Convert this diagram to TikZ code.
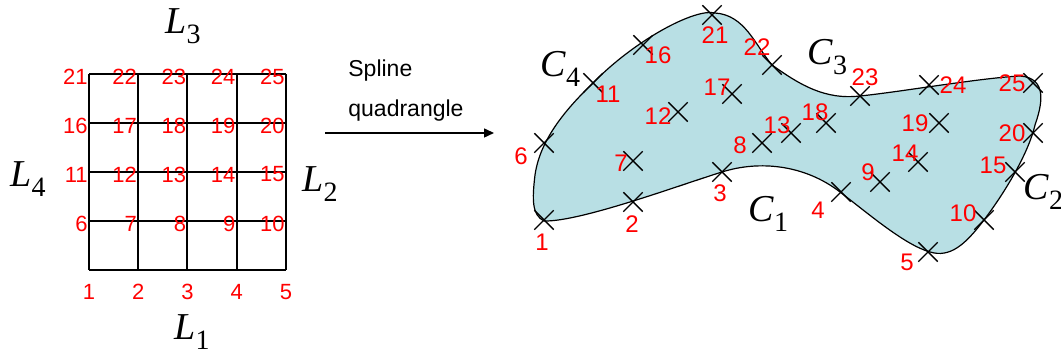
\documentclass[tikz,border=0pt]{standalone}
\usepackage{fontspec}
\setmainfont{Liberation Sans}
\newfontfamily\serfont{Liberation Serif}
\usetikzlibrary{arrows.meta,shapes.misc}
\definecolor{patchfill}{RGB}{184,223,228}
\newcommand\sublab[2]{{\serfont\fontsize{19}{19}\selectfont\textit{#1}\raisebox{-5pt}{\fontsize{14}{14}\selectfont #2}}}

\begin{document}
\begin{tikzpicture}[x=0.5pt,y=-0.5pt,
  gridline/.style={line width=0.6pt},
  gridnum/.style={text=red, font=\fontsize{11}{11}\selectfont, inner sep=0pt},
  ptnum/.style={text=red, font=\fontsize{12}{12}\selectfont, inner sep=0pt},
  xmark/.style={cross out, draw, line width=0.7pt, minimum size=9pt, inner sep=0pt},
  sidelab/.style={anchor=base west, inner sep=0pt},
  arrow/.style={-{Triangle[length=5pt,width=4.5pt]}, line width=0.75pt}
]
\useasboundingbox (0,0) rectangle (1061,356);

% parameter square
\foreach \v in {89,138,187,237,286} \draw[gridline] (\v,74) -- (\v,270);
\foreach \v in {74,123,172,221,270} \draw[gridline] (89,\v) -- (286,\v);
\foreach \i in {1,...,5}
  \node[gridnum] (g\i) at ({89+49.25*(\i-1)},292) {\i};
\foreach \j in {1,...,4} \foreach \i in {1,...,5} {
  \pgfmathtruncatemacro\n{5*\j+\i}
  \node[gridnum, anchor=east] (g\n) at ({88+49.25*(\i-1)},{272.5-49*\j}) {\n};
}
\node[sidelab] (l3) at (165,34) {\sublab{L}{3}};
\node[sidelab] (l1) at (174,340) {\sublab{L}{1}};
\node[sidelab] (l4) at (10,187) {\sublab{L}{4}};
\node[sidelab] (l2) at (302,192) {\sublab{L}{2}};

% mapping
\coordinate (arrowstart) at (325,133);
\coordinate (arrowend) at (494,133);
\draw[arrow] (arrowstart) -- (arrowend);
\node[sidelab, font=\fontsize{11.5}{11.5}\selectfont] (spl) at (348,77) {Spline};
\node[sidelab, font=\fontsize{11.5}{11.5}\selectfont] (quad) at (348,117) {quadrangle};

% physical patch
\filldraw[fill=patchfill, line width=0.6pt] (544,221)
  .. controls (580,222) and (680,185) .. (722,172)
  .. controls (760,160) and (805,165) .. (840,192)
  .. controls (870,215) and (905,245) .. (930,252)
  .. controls (950,258) and (965,245) .. (984,220)
  .. controls (1003,195) and (1028,155) .. (1035,125)
  .. controls (1042,105) and (1048,78) .. (1020,76)
  .. controls (980,78) and (900,92) .. (860,96)
  .. controls (825,100) and (800,85) .. (772,65)
  .. controls (755,45) and (745,15) .. (715,13)
  .. controls (695,8) and (635,40) .. (593,83)
  .. controls (565,110) and (540,140) .. (535,175)
  .. controls (532,200) and (532,215) .. cycle;
\foreach \i/\px/\py/\lx/\ly in {
  1/544/220/542/242, 2/633/202/632/224, 3/722/172/720/193, 4/841/192/818/210,
  5/928/252/907/262, 6/544/143/521/156, 7/633/161/621/163, 8/762/143/740/145,
  9/880/182/868/172, 10/984/220/963/213, 11/593/83/608/94, 12/678/112/658/116,
  13/791/133/777/125, 14/918/162/905/153, 15/1015/172/993/165, 16/643/45/658/55,
  17/732/94/717/87, 18/826/123/815/112, 19/939/123/915/123, 20/1033/133/1012/133,
  21/712/15/715/35, 22/772/65/757/47, 23/860/96/865/77, 24/929/85/953/85,
  25/1033/83/1012/83} {
  \node[xmark] (p\i) at (\px,\py) {};
  \node[ptnum] (n\i) at (\lx,\ly) {\i};
}
\node[sidelab] (c4) at (540,77) {\sublab{C}{4}};
\node[sidelab] (c3) at (807,65) {\sublab{C}{3}};
\node[sidelab] (c1) at (748,222) {\sublab{C}{1}};
\node[sidelab] (c2) at (1023,200) {\sublab{C}{2}};
\end{tikzpicture}
\end{document}
